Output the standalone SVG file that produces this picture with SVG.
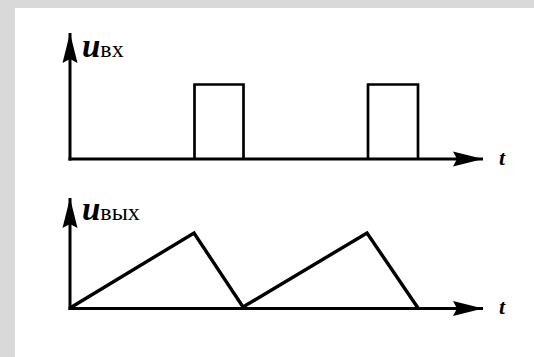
<svg xmlns="http://www.w3.org/2000/svg" width="534" height="357" viewBox="0 0 534 357">
  <style>
    .ax { fill: none; stroke: #000; stroke-width: 3; }
    .sig { fill: none; stroke: #000; stroke-width: 2.7; stroke-linejoin: miter; }
    .wave { fill: none; stroke: #000; stroke-width: 3.4; stroke-linejoin: miter; }
    text { font-family: "Liberation Serif", "DejaVu Serif", serif; fill: #000; }
    .u { font-weight: bold; font-style: italic; font-size: 33px; }
    .sub { font-weight: normal; font-style: normal; font-size: 24px; }
    .t { font-weight: bold; font-style: italic; font-size: 22px; }
  </style>
  <defs>
    <marker id="arr" markerUnits="userSpaceOnUse" markerWidth="32" markerHeight="16" viewBox="0 -8 32 16" refX="30" refY="0" orient="auto">
      <path d="M30,0 L0,-7.5 L4,0 L0,7.5 Z" fill="#000"/>
    </marker>
  </defs>
  <rect x="0" y="0" width="534" height="357" fill="#d9d9d9"/>
  <rect x="15" y="8" width="525" height="355" fill="#ffffff"/>

  <g id="connectors">
    <path id="top-y-axis" class="ax" d="M70,160.5 L70,33" marker-end="url(#arr)"/>
    <path id="top-x-axis" class="ax" d="M68.5,159 L483,159" marker-end="url(#arr)"/>
    <path id="bot-y-axis" class="ax" d="M70,310 L70,198" marker-end="url(#arr)"/>
    <path id="bot-x-axis" class="ax" d="M68.5,308.5 L483,308.5" marker-end="url(#arr)"/>
  </g>

  <g id="input-signal">
    <path class="sig" d="M194.5,159 L194.5,84.5 L243.5,84.5 L243.5,159"/>
    <path class="sig" d="M368,159 L368,84.5 L418,84.5 L418,159"/>
  </g>

  <g id="output-signal">
    <path class="wave" d="M70,308 L194,233 L243,307 L367,233 L418,308"/>
  </g>

  <g id="label-uin">
    <text x="82" y="57"><tspan class="u">u</tspan><tspan class="sub">вх</tspan></text>
  </g>
  <g id="label-uout">
    <text x="82" y="220"><tspan class="u">u</tspan><tspan class="sub">вых</tspan></text>
  </g>
  <g id="label-t-top">
    <text class="t" x="499" y="165">t</text>
  </g>
  <g id="label-t-bot">
    <text class="t" x="499" y="314">t</text>
  </g>
</svg>
